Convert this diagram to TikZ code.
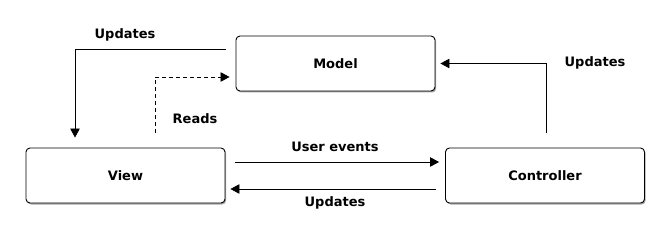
\documentclass[tikz,border=0pt]{standalone}
\usepackage{fontspec}
\setmainfont{DejaVu Sans}
\usetikzlibrary{arrows.meta,shadows}
\begin{document}
\begin{tikzpicture}[x=1pt,y=-1pt,
  box/.style={draw=black,line width=0.9pt,rounded corners=4pt,fill=white,
    minimum width=199pt,minimum height=55pt,inner sep=0pt,
    font=\fontsize{13}{15}\selectfont\bfseries,
    drop shadow={shadow xshift=1.2pt,shadow yshift=-1.5pt,opacity=0.35,fill=black}},
  lbl/.style={font=\fontsize{13}{15}\selectfont\bfseries,inner sep=0pt},
  arr/.style={line width=0.8pt,-{Triangle[length=9pt,width=9.5pt]}}]
\useasboundingbox[fill=white] (0,0) rectangle (670,238);
\node[box] (model) at (335.5,63.5) {Model};
\node[box] (view) at (125.5,175.5) {View};
\node[box] (controller) at (545,175.5) {Controller};
% Model -> View
\draw[arr] ([xshift=-10pt,yshift=14.5pt]model.west) -| ([xshift=-50.5pt,yshift=10pt]view.north);
\node[lbl] (lupd1) at (125,35) {Updates};
% View reads Model
\draw[arr,dashed,dash pattern=on 4pt off 3pt] ([xshift=29.5pt,yshift=15pt]view.north) |- ([xshift=-6pt,yshift=-13.5pt]model.west);
\node[lbl] (lreads) at (195,119) {Reads};
% View -> Controller
\draw[arr] ([xshift=10pt,yshift=13.5pt]view.east) -- ([xshift=-6pt,yshift=13.5pt]controller.west);
\node[lbl] (luser) at (335,147) {User events};
% Controller -> View
\draw[arr] ([xshift=-9pt,yshift=-13.5pt]controller.west) -- ([xshift=5pt,yshift=-13.5pt]view.east);
\node[lbl] (lupd2) at (335,203) {Updates};
% Controller -> Model
\draw[arr] ([xshift=1pt,yshift=15pt]controller.north) |- ([xshift=5pt]model.east);
\node[lbl] (lupd3) at (595,63) {Updates};
\end{tikzpicture}
\end{document}
